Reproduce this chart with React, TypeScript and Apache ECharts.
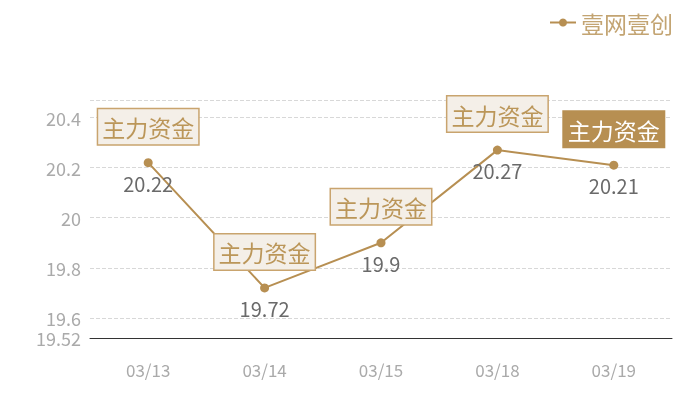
import React, { useEffect, useRef } from "react";
import * as echarts from "echarts";

const categories = ["03/13", "03/14", "03/15", "03/18", "03/19"];
const values = [20.22, 19.72, 19.9, 20.27, 20.21];
const seriesName = "壹网壹创";
const tagText = "主力资金";
const Y_MIN = 19.52;
const Y_MAX = 20.47;
const highlightIndex = 4;

const GOLD = "#b78f52";
const FONT = "'Noto Sans CJK SC', 'Noto Sans', sans-serif";

export default function App() {
  const ref = useRef<HTMLDivElement>(null);
  useEffect(() => {
    if (!ref.current) return;
    const chart = echarts.init(ref.current, null, { renderer: "svg" });
    const tagData = values.map((v, i) =>
      i === highlightIndex
        ? {
            value: v,
            label: {
              backgroundColor: GOLD,
              borderColor: GOLD,
              color: "#ffffff",
            },
          }
        : v
    );
    chart.setOption({
      animation: false,
      textStyle: { fontFamily: FONT },
      legend: {
        data: [seriesName],
        right: 22,
        top: 6,
        itemWidth: 26,
        itemHeight: 10,
        itemGap: 8,
        textStyle: { color: "#c3a472", fontSize: 23, fontFamily: FONT },
      },
      grid: { left: 90, right: 28, top: 100, bottom: 62, containLabel: false },
      xAxis: {
        type: "category",
        data: categories,
        boundaryGap: true,
        axisLine: { lineStyle: { color: "#333", width: 1 } },
        axisTick: { show: false },
        axisLabel: { color: "#aaa", fontSize: 17, margin: 23, fontFamily: FONT },
        splitLine: { show: false },
      },
      yAxis: {
        type: "value",
        min: Y_MIN,
        max: Y_MAX,
        splitNumber: 5,
        axisLine: { show: false },
        axisTick: { show: false },
        axisLabel: {
          color: "#aaa",
          fontSize: 18,
          margin: 9,
          showMinLabel: true,
          showMaxLabel: false,
          fontFamily: FONT,
        },
        splitLine: { lineStyle: { color: "#d8d8d8", type: "dashed" } },
      },
      series: [
        {
          name: seriesName,
          type: "line",
          data: values,
          symbol: "circle",
          symbolSize: 9,
          itemStyle: { color: GOLD },
          lineStyle: { color: GOLD, width: 2 },
          label: {
            show: true,
            position: "bottom",
            distance: 6,
            color: "#6a6a6a",
            fontSize: 20,
            fontFamily: FONT,
          },
          z: 2,
        },
        {
          name: tagText,
          type: "line",
          data: tagData,
          symbol: "circle",
          symbolSize: 9,
          itemStyle: { color: "rgba(0,0,0,0)" },
          lineStyle: { width: 0, color: "rgba(0,0,0,0)" },
          emphasis: { disabled: true },
          label: {
            show: true,
            position: "top",
            distance: 14,
            formatter: tagText,
            color: "#bb9659",
            fontSize: 23,
            lineHeight: 28,
            fontFamily: FONT,
            backgroundColor: "#f4efe8",
            borderColor: "#c9a46e",
            borderWidth: 1.5,
            padding: [4, 4, 3, 4],
          },
          z: 3,
        },
      ],
    });
    return () => chart.dispose();
  }, []);
  return (
    <div
      ref={ref}
      style={{ position: "fixed", left: 0, top: 0, width: 700, height: 400 }}
    />
  );
}
